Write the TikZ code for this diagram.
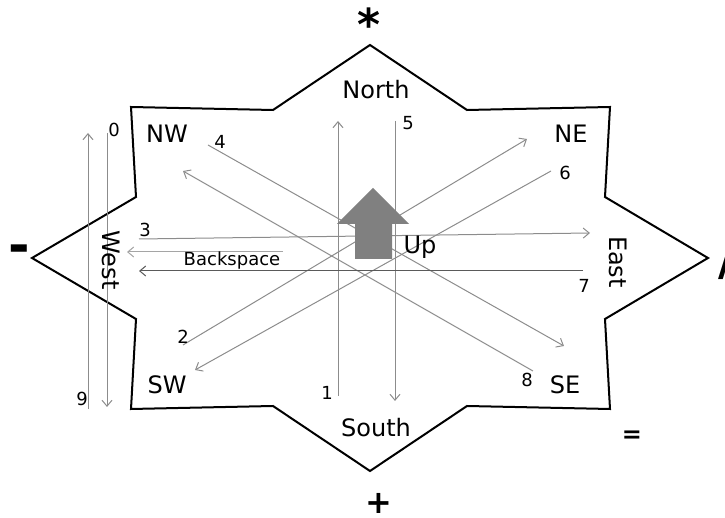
\documentclass[tikz,border=0pt]{standalone}
\usepackage{fontspec}
\setmainfont{DejaVu Sans}
\usepackage{xcolor}
\usetikzlibrary{arrows.meta}
\definecolor{wiregray}{RGB}{140,140,140}
\definecolor{softgray}{RGB}{165,165,165}
\definecolor{darkwire}{RGB}{90,90,90}
\definecolor{upgray}{RGB}{128,128,128}
\tikzstyle{compass} = [font=\fontsize{12}{14}\selectfont, inner sep=0pt]
\tikzstyle{digit} = [font=\fontsize{9}{11}\selectfont, inner sep=0pt]
\tikzstyle{sign} = [font=\bfseries, inner sep=0pt]
\tikzstyle{outline} = [draw, black, line width=1pt, line join=miter]
\tikzstyle{line} = [draw, wiregray, line width=0.5pt, -{Straight Barb[length=3pt,width=5pt]}]

\begin{document}
\begin{tikzpicture}[x=0.5pt, y=-0.5pt]
        \useasboundingbox (0,0) rectangle (725,518);

        % Star outline
        \path [outline] (370,45) -- (467,110) -- (610,107) -- (605,197)
            -- (708,258) -- (605,319) -- (610,409) -- (467,406)
            -- (370,471) -- (273,406) -- (131,409) -- (136,319)
            -- (32,258) -- (136,197) -- (131,107) -- (273,110) -- cycle;

        % Strokes
        \foreach \n/\xa/\ya/\xb/\yb in {0/107/133/107/407, 9/88/409/88/133,
            1/338/396/338/121, 5/395/121/395/401, 3/139/239/590/233,
            4/208/145/564/346, 8/533/371/183/171, 6/551/171/195/370,
            2/183/345/527/139} {
            \coordinate (s\n) at (\xa,\ya);
            \coordinate (e\n) at (\xb,\yb);
            \path [line] (s\n) -- (e\n);
        }
        \coordinate (s7) at (583,271);
        \coordinate (e7) at (139,271);
        \path [line, darkwire] (s7) -- (e7);
        \coordinate (sbs) at (283,252);
        \coordinate (ebs) at (127,252);
        \path [line, softgray] (sbs) -- (ebs);

        % Up arrow
        \fill [upgray] (373,188) -- (409,224) -- (392,224) -- (392,259)
            -- (355,259) -- (355,224) -- (337,224) -- cycle;

        % Directions
        \node [compass] (north) at (376,90) {North};
        \node [compass] (south) at (376,428) {South};
        \node [compass] (nw) at (167,134) {NW};
        \node [compass] (ne) at (571,134) {NE};
        \node [compass] (sw) at (167,385) {SW};
        \node [compass] (se) at (565,385) {SE};
        \node [compass, rotate=-90] (west) at (111,260) {West};
        \node [compass, rotate=-90] (east) at (618,262) {East};
        \node [compass] (up) at (420,247) {Up};
        \node [digit] (backspace) at (232,261) {Backspace};

        % Stroke numbers
        \foreach \n/\x/\y in {0/114/130, 1/327/393, 2/183/337, 3/145/230,
            4/220/142, 5/408/123, 6/565/173, 7/584/286, 8/527/380, 9/82/399}
            \node [digit] (n\n) at (\x,\y) {\n};

        % Operators
        \node [sign, font=\fontsize{22}{24}\selectfont\bfseries] (times) at (369,24) {*};
        \node [sign, font=\fontsize{16}{18}\selectfont\bfseries] (plus) at (379,503) {+};
        \node [sign, font=\fontsize{26}{28}\selectfont\bfseries] (minus) at (19,254) {-};
        \node [sign, font=\fontsize{22}{24}\selectfont\bfseries] (divide) at (727,262) {/};
        \node [sign, font=\fontsize{12}{14}\selectfont\bfseries] (equals) at (632,437) {=};
    \end{tikzpicture}
\end{document}
